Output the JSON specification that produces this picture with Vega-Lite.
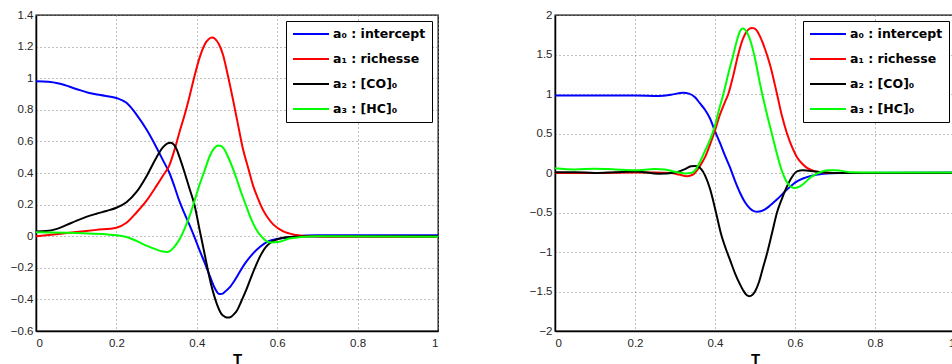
{
  "$schema": "https://vega.github.io/schema/vega-lite/v6.json",
  "background": "white",
  "padding": {"left": 9, "top": 8, "right": 0, "bottom": 0},
  "spacing": 85,
  "datasets": {
    "left": [
      {"s":"a₀ : intercept","T":0,"v":0.98},{"s":"a₀ : intercept","T":0.03,"v":0.978},{"s":"a₀ : intercept","T":0.06,"v":0.965},{"s":"a₀ : intercept","T":0.1,"v":0.932},{"s":"a₀ : intercept","T":0.13,"v":0.908},{"s":"a₀ : intercept","T":0.16,"v":0.893},{"s":"a₀ : intercept","T":0.2,"v":0.875},{"s":"a₀ : intercept","T":0.225,"v":0.844},{"s":"a₀ : intercept","T":0.25,"v":0.77},{"s":"a₀ : intercept","T":0.275,"v":0.675},{"s":"a₀ : intercept","T":0.3,"v":0.56},{"s":"a₀ : intercept","T":0.316,"v":0.48},{"s":"a₀ : intercept","T":0.332,"v":0.4},{"s":"a₀ : intercept","T":0.345,"v":0.31},{"s":"a₀ : intercept","T":0.357,"v":0.22},{"s":"a₀ : intercept","T":0.37,"v":0.14},{"s":"a₀ : intercept","T":0.382,"v":0.07},{"s":"a₀ : intercept","T":0.395,"v":-0.01},{"s":"a₀ : intercept","T":0.407,"v":-0.09},{"s":"a₀ : intercept","T":0.42,"v":-0.17},{"s":"a₀ : intercept","T":0.432,"v":-0.25},{"s":"a₀ : intercept","T":0.443,"v":-0.32},{"s":"a₀ : intercept","T":0.45,"v":-0.352},{"s":"a₀ : intercept","T":0.456,"v":-0.366},{"s":"a₀ : intercept","T":0.462,"v":-0.365},{"s":"a₀ : intercept","T":0.47,"v":-0.352},{"s":"a₀ : intercept","T":0.481,"v":-0.326},{"s":"a₀ : intercept","T":0.494,"v":-0.28},{"s":"a₀ : intercept","T":0.506,"v":-0.23},{"s":"a₀ : intercept","T":0.518,"v":-0.18},{"s":"a₀ : intercept","T":0.531,"v":-0.136},{"s":"a₀ : intercept","T":0.556,"v":-0.07},{"s":"a₀ : intercept","T":0.58,"v":-0.03},{"s":"a₀ : intercept","T":0.606,"v":-0.015},{"s":"a₀ : intercept","T":0.64,"v":-0.003},{"s":"a₀ : intercept","T":0.7,"v":0.006},{"s":"a₀ : intercept","T":1,"v":0.006},

      {"s":"a₁ : richesse","T":0,"v":0.0},{"s":"a₁ : richesse","T":0.05,"v":0.012},{"s":"a₁ : richesse","T":0.1,"v":0.026},{"s":"a₁ : richesse","T":0.15,"v":0.04},{"s":"a₁ : richesse","T":0.2,"v":0.054},{"s":"a₁ : richesse","T":0.225,"v":0.085},{"s":"a₁ : richesse","T":0.25,"v":0.15},{"s":"a₁ : richesse","T":0.275,"v":0.225},{"s":"a₁ : richesse","T":0.3,"v":0.32},{"s":"a₁ : richesse","T":0.315,"v":0.38},{"s":"a₁ : richesse","T":0.332,"v":0.45},{"s":"a₁ : richesse","T":0.345,"v":0.55},{"s":"a₁ : richesse","T":0.357,"v":0.66},{"s":"a₁ : richesse","T":0.37,"v":0.77},{"s":"a₁ : richesse","T":0.382,"v":0.886},{"s":"a₁ : richesse","T":0.395,"v":1.02},{"s":"a₁ : richesse","T":0.407,"v":1.13},{"s":"a₁ : richesse","T":0.42,"v":1.215},{"s":"a₁ : richesse","T":0.43,"v":1.248},{"s":"a₁ : richesse","T":0.438,"v":1.257},{"s":"a₁ : richesse","T":0.445,"v":1.25},{"s":"a₁ : richesse","T":0.455,"v":1.215},{"s":"a₁ : richesse","T":0.465,"v":1.15},{"s":"a₁ : richesse","T":0.477,"v":1.02},{"s":"a₁ : richesse","T":0.49,"v":0.865},{"s":"a₁ : richesse","T":0.503,"v":0.7},{"s":"a₁ : richesse","T":0.515,"v":0.55},{"s":"a₁ : richesse","T":0.528,"v":0.43},{"s":"a₁ : richesse","T":0.54,"v":0.32},{"s":"a₁ : richesse","T":0.552,"v":0.24},{"s":"a₁ : richesse","T":0.564,"v":0.17},{"s":"a₁ : richesse","T":0.577,"v":0.115},{"s":"a₁ : richesse","T":0.59,"v":0.075},{"s":"a₁ : richesse","T":0.614,"v":0.032},{"s":"a₁ : richesse","T":0.647,"v":0.008},{"s":"a₁ : richesse","T":0.68,"v":0.0},{"s":"a₁ : richesse","T":0.75,"v":-0.003},{"s":"a₁ : richesse","T":1,"v":-0.005},

      {"s":"a₂ : [CO]₀","T":0,"v":0.03},{"s":"a₂ : [CO]₀","T":0.025,"v":0.033},{"s":"a₂ : [CO]₀","T":0.05,"v":0.045},{"s":"a₂ : [CO]₀","T":0.075,"v":0.07},{"s":"a₂ : [CO]₀","T":0.1,"v":0.097},{"s":"a₂ : [CO]₀","T":0.125,"v":0.122},{"s":"a₂ : [CO]₀","T":0.15,"v":0.142},{"s":"a₂ : [CO]₀","T":0.175,"v":0.16},{"s":"a₂ : [CO]₀","T":0.2,"v":0.18},{"s":"a₂ : [CO]₀","T":0.225,"v":0.215},{"s":"a₂ : [CO]₀","T":0.25,"v":0.28},{"s":"a₂ : [CO]₀","T":0.275,"v":0.38},{"s":"a₂ : [CO]₀","T":0.3,"v":0.5},{"s":"a₂ : [CO]₀","T":0.315,"v":0.56},{"s":"a₂ : [CO]₀","T":0.327,"v":0.587},{"s":"a₂ : [CO]₀","T":0.335,"v":0.592},{"s":"a₂ : [CO]₀","T":0.343,"v":0.58},{"s":"a₂ : [CO]₀","T":0.35,"v":0.55},{"s":"a₂ : [CO]₀","T":0.357,"v":0.5},{"s":"a₂ : [CO]₀","T":0.37,"v":0.4},{"s":"a₂ : [CO]₀","T":0.382,"v":0.3},{"s":"a₂ : [CO]₀","T":0.394,"v":0.2},{"s":"a₂ : [CO]₀","T":0.407,"v":0.04},{"s":"a₂ : [CO]₀","T":0.42,"v":-0.12},{"s":"a₂ : [CO]₀","T":0.435,"v":-0.3},{"s":"a₂ : [CO]₀","T":0.45,"v":-0.43},{"s":"a₂ : [CO]₀","T":0.462,"v":-0.495},{"s":"a₂ : [CO]₀","T":0.47,"v":-0.51},{"s":"a₂ : [CO]₀","T":0.477,"v":-0.515},{"s":"a₂ : [CO]₀","T":0.485,"v":-0.51},{"s":"a₂ : [CO]₀","T":0.492,"v":-0.495},{"s":"a₂ : [CO]₀","T":0.5,"v":-0.47},{"s":"a₂ : [CO]₀","T":0.511,"v":-0.41},{"s":"a₂ : [CO]₀","T":0.523,"v":-0.34},{"s":"a₂ : [CO]₀","T":0.535,"v":-0.26},{"s":"a₂ : [CO]₀","T":0.548,"v":-0.18},{"s":"a₂ : [CO]₀","T":0.56,"v":-0.115},{"s":"a₂ : [CO]₀","T":0.573,"v":-0.065},{"s":"a₂ : [CO]₀","T":0.585,"v":-0.038},{"s":"a₂ : [CO]₀","T":0.6,"v":-0.02},{"s":"a₂ : [CO]₀","T":0.63,"v":-0.005},{"s":"a₂ : [CO]₀","T":0.7,"v":0.0},{"s":"a₂ : [CO]₀","T":1,"v":0.0},

      {"s":"a₃ : [HC]₀","T":0,"v":0.025},{"s":"a₃ : [HC]₀","T":0.1,"v":0.02},{"s":"a₃ : [HC]₀","T":0.2,"v":0.006},{"s":"a₃ : [HC]₀","T":0.225,"v":-0.005},{"s":"a₃ : [HC]₀","T":0.25,"v":-0.03},{"s":"a₃ : [HC]₀","T":0.275,"v":-0.06},{"s":"a₃ : [HC]₀","T":0.3,"v":-0.085},{"s":"a₃ : [HC]₀","T":0.315,"v":-0.097},{"s":"a₃ : [HC]₀","T":0.325,"v":-0.1},{"s":"a₃ : [HC]₀","T":0.333,"v":-0.095},{"s":"a₃ : [HC]₀","T":0.345,"v":-0.065},{"s":"a₃ : [HC]₀","T":0.357,"v":-0.02},{"s":"a₃ : [HC]₀","T":0.37,"v":0.05},{"s":"a₃ : [HC]₀","T":0.382,"v":0.127},{"s":"a₃ : [HC]₀","T":0.395,"v":0.23},{"s":"a₃ : [HC]₀","T":0.407,"v":0.327},{"s":"a₃ : [HC]₀","T":0.42,"v":0.42},{"s":"a₃ : [HC]₀","T":0.432,"v":0.506},{"s":"a₃ : [HC]₀","T":0.442,"v":0.553},{"s":"a₃ : [HC]₀","T":0.449,"v":0.57},{"s":"a₃ : [HC]₀","T":0.455,"v":0.574},{"s":"a₃ : [HC]₀","T":0.461,"v":0.57},{"s":"a₃ : [HC]₀","T":0.468,"v":0.552},{"s":"a₃ : [HC]₀","T":0.477,"v":0.506},{"s":"a₃ : [HC]₀","T":0.488,"v":0.44},{"s":"a₃ : [HC]₀","T":0.498,"v":0.37},{"s":"a₃ : [HC]₀","T":0.51,"v":0.28},{"s":"a₃ : [HC]₀","T":0.523,"v":0.19},{"s":"a₃ : [HC]₀","T":0.535,"v":0.11},{"s":"a₃ : [HC]₀","T":0.548,"v":0.043},{"s":"a₃ : [HC]₀","T":0.56,"v":0.0},{"s":"a₃ : [HC]₀","T":0.573,"v":-0.031},{"s":"a₃ : [HC]₀","T":0.585,"v":-0.04},{"s":"a₃ : [HC]₀","T":0.606,"v":-0.035},{"s":"a₃ : [HC]₀","T":0.63,"v":-0.015},{"s":"a₃ : [HC]₀","T":0.66,"v":-0.005},{"s":"a₃ : [HC]₀","T":0.7,"v":0.0},{"s":"a₃ : [HC]₀","T":1,"v":-0.003}
    ],
    "right": [
      {"s":"a₀ : intercept","T":0,"v":0.98},{"s":"a₀ : intercept","T":0.1,"v":0.98},{"s":"a₀ : intercept","T":0.2,"v":0.98},{"s":"a₀ : intercept","T":0.26,"v":0.975},{"s":"a₀ : intercept","T":0.29,"v":0.99},{"s":"a₀ : intercept","T":0.32,"v":1.015},{"s":"a₀ : intercept","T":0.335,"v":1.005},{"s":"a₀ : intercept","T":0.35,"v":0.96},{"s":"a₀ : intercept","T":0.3625,"v":0.88},{"s":"a₀ : intercept","T":0.375,"v":0.8},{"s":"a₀ : intercept","T":0.3875,"v":0.69},{"s":"a₀ : intercept","T":0.4,"v":0.53},{"s":"a₀ : intercept","T":0.4125,"v":0.38},{"s":"a₀ : intercept","T":0.425,"v":0.22},{"s":"a₀ : intercept","T":0.4375,"v":0.07},{"s":"a₀ : intercept","T":0.45,"v":-0.1},{"s":"a₀ : intercept","T":0.4625,"v":-0.25},{"s":"a₀ : intercept","T":0.475,"v":-0.37},{"s":"a₀ : intercept","T":0.4875,"v":-0.45},{"s":"a₀ : intercept","T":0.497,"v":-0.482},{"s":"a₀ : intercept","T":0.506,"v":-0.49},{"s":"a₀ : intercept","T":0.514,"v":-0.485},{"s":"a₀ : intercept","T":0.524,"v":-0.463},{"s":"a₀ : intercept","T":0.537,"v":-0.415},{"s":"a₀ : intercept","T":0.554,"v":-0.34},{"s":"a₀ : intercept","T":0.58,"v":-0.21},{"s":"a₀ : intercept","T":0.604,"v":-0.11},{"s":"a₀ : intercept","T":0.62,"v":-0.07},{"s":"a₀ : intercept","T":0.6375,"v":-0.04},{"s":"a₀ : intercept","T":0.671,"v":-0.01},{"s":"a₀ : intercept","T":0.7125,"v":0.0},{"s":"a₀ : intercept","T":1,"v":0.005},

      {"s":"a₁ : richesse","T":0,"v":0.0},{"s":"a₁ : richesse","T":0.1,"v":0.0},{"s":"a₁ : richesse","T":0.2,"v":0.005},{"s":"a₁ : richesse","T":0.25,"v":0.005},{"s":"a₁ : richesse","T":0.29,"v":0.0},{"s":"a₁ : richesse","T":0.31,"v":-0.02},{"s":"a₁ : richesse","T":0.33,"v":-0.04},{"s":"a₁ : richesse","T":0.345,"v":-0.02},{"s":"a₁ : richesse","T":0.3625,"v":0.09},{"s":"a₁ : richesse","T":0.375,"v":0.2},{"s":"a₁ : richesse","T":0.3875,"v":0.36},{"s":"a₁ : richesse","T":0.4,"v":0.54},{"s":"a₁ : richesse","T":0.4125,"v":0.74},{"s":"a₁ : richesse","T":0.425,"v":0.9},{"s":"a₁ : richesse","T":0.4333,"v":1.0},{"s":"a₁ : richesse","T":0.445,"v":1.22},{"s":"a₁ : richesse","T":0.458,"v":1.5},{"s":"a₁ : richesse","T":0.47,"v":1.7},{"s":"a₁ : richesse","T":0.479,"v":1.79},{"s":"a₁ : richesse","T":0.486,"v":1.826},{"s":"a₁ : richesse","T":0.492,"v":1.836},{"s":"a₁ : richesse","T":0.498,"v":1.83},{"s":"a₁ : richesse","T":0.505,"v":1.8},{"s":"a₁ : richesse","T":0.5125,"v":1.73},{"s":"a₁ : richesse","T":0.525,"v":1.57},{"s":"a₁ : richesse","T":0.5375,"v":1.37},{"s":"a₁ : richesse","T":0.555,"v":1.0},{"s":"a₁ : richesse","T":0.5675,"v":0.72},{"s":"a₁ : richesse","T":0.58,"v":0.5},{"s":"a₁ : richesse","T":0.5925,"v":0.33},{"s":"a₁ : richesse","T":0.605,"v":0.2},{"s":"a₁ : richesse","T":0.6175,"v":0.12},{"s":"a₁ : richesse","T":0.63,"v":0.065},{"s":"a₁ : richesse","T":0.645,"v":0.03},{"s":"a₁ : richesse","T":0.66,"v":0.012},{"s":"a₁ : richesse","T":0.68,"v":0.003},{"s":"a₁ : richesse","T":0.7,"v":0.0},{"s":"a₁ : richesse","T":1,"v":0.0},

      {"s":"a₂ : [CO]₀","T":0,"v":0.01},{"s":"a₂ : [CO]₀","T":0.05,"v":0.01},{"s":"a₂ : [CO]₀","T":0.1,"v":0.0},{"s":"a₂ : [CO]₀","T":0.15,"v":0.01},{"s":"a₂ : [CO]₀","T":0.2,"v":0.02},{"s":"a₂ : [CO]₀","T":0.26,"v":-0.01},{"s":"a₂ : [CO]₀","T":0.3,"v":0.005},{"s":"a₂ : [CO]₀","T":0.325,"v":0.05},{"s":"a₂ : [CO]₀","T":0.34,"v":0.085},{"s":"a₂ : [CO]₀","T":0.35,"v":0.09},{"s":"a₂ : [CO]₀","T":0.358,"v":0.08},{"s":"a₂ : [CO]₀","T":0.366,"v":0.045},{"s":"a₂ : [CO]₀","T":0.375,"v":-0.03},{"s":"a₂ : [CO]₀","T":0.3875,"v":-0.2},{"s":"a₂ : [CO]₀","T":0.4025,"v":-0.5},{"s":"a₂ : [CO]₀","T":0.415,"v":-0.77},{"s":"a₂ : [CO]₀","T":0.43,"v":-1.0},{"s":"a₂ : [CO]₀","T":0.4375,"v":-1.1},{"s":"a₂ : [CO]₀","T":0.45,"v":-1.27},{"s":"a₂ : [CO]₀","T":0.4625,"v":-1.41},{"s":"a₂ : [CO]₀","T":0.471,"v":-1.49},{"s":"a₂ : [CO]₀","T":0.479,"v":-1.545},{"s":"a₂ : [CO]₀","T":0.486,"v":-1.56},{"s":"a₂ : [CO]₀","T":0.493,"v":-1.545},{"s":"a₂ : [CO]₀","T":0.5,"v":-1.5},{"s":"a₂ : [CO]₀","T":0.51,"v":-1.38},{"s":"a₂ : [CO]₀","T":0.52,"v":-1.2},{"s":"a₂ : [CO]₀","T":0.531,"v":-1.0},{"s":"a₂ : [CO]₀","T":0.543,"v":-0.75},{"s":"a₂ : [CO]₀","T":0.555,"v":-0.5},{"s":"a₂ : [CO]₀","T":0.567,"v":-0.33},{"s":"a₂ : [CO]₀","T":0.58,"v":-0.17},{"s":"a₂ : [CO]₀","T":0.5925,"v":-0.05},{"s":"a₂ : [CO]₀","T":0.605,"v":0.02},{"s":"a₂ : [CO]₀","T":0.62,"v":0.035},{"s":"a₂ : [CO]₀","T":0.65,"v":0.02},{"s":"a₂ : [CO]₀","T":0.7,"v":0.0},{"s":"a₂ : [CO]₀","T":1,"v":0.0},

      {"s":"a₃ : [HC]₀","T":0,"v":0.06},{"s":"a₃ : [HC]₀","T":0.05,"v":0.045},{"s":"a₃ : [HC]₀","T":0.1,"v":0.055},{"s":"a₃ : [HC]₀","T":0.15,"v":0.045},{"s":"a₃ : [HC]₀","T":0.2,"v":0.035},{"s":"a₃ : [HC]₀","T":0.25,"v":0.05},{"s":"a₃ : [HC]₀","T":0.275,"v":0.045},{"s":"a₃ : [HC]₀","T":0.3,"v":0.015},{"s":"a₃ : [HC]₀","T":0.325,"v":-0.005},{"s":"a₃ : [HC]₀","T":0.34,"v":0.0},{"s":"a₃ : [HC]₀","T":0.3525,"v":0.05},{"s":"a₃ : [HC]₀","T":0.3625,"v":0.14},{"s":"a₃ : [HC]₀","T":0.375,"v":0.28},{"s":"a₃ : [HC]₀","T":0.3875,"v":0.42},{"s":"a₃ : [HC]₀","T":0.4,"v":0.6},{"s":"a₃ : [HC]₀","T":0.41,"v":0.8},{"s":"a₃ : [HC]₀","T":0.421,"v":1.0},{"s":"a₃ : [HC]₀","T":0.433,"v":1.25},{"s":"a₃ : [HC]₀","T":0.446,"v":1.5},{"s":"a₃ : [HC]₀","T":0.456,"v":1.7},{"s":"a₃ : [HC]₀","T":0.463,"v":1.8},{"s":"a₃ : [HC]₀","T":0.469,"v":1.83},{"s":"a₃ : [HC]₀","T":0.475,"v":1.815},{"s":"a₃ : [HC]₀","T":0.481,"v":1.77},{"s":"a₃ : [HC]₀","T":0.4875,"v":1.69},{"s":"a₃ : [HC]₀","T":0.5,"v":1.45},{"s":"a₃ : [HC]₀","T":0.5125,"v":1.13},{"s":"a₃ : [HC]₀","T":0.53,"v":0.74},{"s":"a₃ : [HC]₀","T":0.542,"v":0.5},{"s":"a₃ : [HC]₀","T":0.555,"v":0.24},{"s":"a₃ : [HC]₀","T":0.567,"v":0.03},{"s":"a₃ : [HC]₀","T":0.578,"v":-0.1},{"s":"a₃ : [HC]₀","T":0.59,"v":-0.175},{"s":"a₃ : [HC]₀","T":0.6,"v":-0.19},{"s":"a₃ : [HC]₀","T":0.6125,"v":-0.17},{"s":"a₃ : [HC]₀","T":0.625,"v":-0.12},{"s":"a₃ : [HC]₀","T":0.6375,"v":-0.06},{"s":"a₃ : [HC]₀","T":0.65,"v":-0.02},{"s":"a₃ : [HC]₀","T":0.6625,"v":0.01},{"s":"a₃ : [HC]₀","T":0.683,"v":0.035},{"s":"a₃ : [HC]₀","T":0.7,"v":0.035},{"s":"a₃ : [HC]₀","T":0.7125,"v":0.03},{"s":"a₃ : [HC]₀","T":0.7375,"v":0.01},{"s":"a₃ : [HC]₀","T":0.8,"v":0.005},{"s":"a₃ : [HC]₀","T":1,"v":0.005}
    ]
  },
  "hconcat": [
    {
      "width": 402,
      "height": 316,
      "data": {"name": "left"},
      "mark": {"type": "line", "interpolate": "monotone", "strokeWidth": 2},
      "encoding": {
        "x": {"field": "T", "type": "quantitative", "scale": {"domain": [0, 1], "nice": false}, "axis": {"values": [0, 0.2, 0.4, 0.6, 0.8, 1], "format": "~g", "title": "T"}},
        "y": {"field": "v", "type": "quantitative", "scale": {"domain": [-0.6, 1.4], "nice": false, "zero": false}, "axis": {"values": [-0.6, -0.4, -0.2, 0, 0.2, 0.4, 0.6, 0.8, 1, 1.2, 1.4], "format": "~g", "title": null}},
        "color": {"field": "s", "type": "nominal", "sort": null, "scale": {"domain": ["a₀ : intercept", "a₁ : richesse", "a₂ : [CO]₀", "a₃ : [HC]₀"], "range": ["#0000ff", "#ff0000", "#000000", "#00ff00"]}, "legend": {"orient": "top-right"}}
      }
    },
    {
      "width": 400,
      "height": 316,
      "data": {"name": "right"},
      "mark": {"type": "line", "interpolate": "monotone", "strokeWidth": 2},
      "encoding": {
        "x": {"field": "T", "type": "quantitative", "scale": {"domain": [0, 1], "nice": false}, "axis": {"values": [0, 0.2, 0.4, 0.6, 0.8, 1], "format": "~g", "title": "T"}},
        "y": {"field": "v", "type": "quantitative", "scale": {"domain": [-2, 2], "nice": false, "zero": false}, "axis": {"values": [-2, -1.5, -1, -0.5, 0, 0.5, 1, 1.5, 2], "format": "~g", "title": null}},
        "color": {"field": "s", "type": "nominal", "sort": null, "scale": {"domain": ["a₀ : intercept", "a₁ : richesse", "a₂ : [CO]₀", "a₃ : [HC]₀"], "range": ["#0000ff", "#ff0000", "#000000", "#00ff00"]}, "legend": {"orient": "top-right"}}
      }
    }
  ],
  "resolve": {"legend": {"color": "independent"}, "scale": {"y": "independent", "x": "independent"}},
  "config": {
    "view": {"stroke": "black", "strokeWidth": 1.3},
    "axis": {
      "domainColor": "black", "domainWidth": 1.5, "ticks": false,
      "grid": true, "gridColor": "#808080", "gridDash": [1, 3], "gridWidth": 1, "gridOpacity": 1,
      "labelFont": "Liberation Sans", "labelFontSize": 11.5, "labelColor": "#262626",
      "titleFont": "Liberation Sans", "titleFontWeight": "bold", "titleFontSize": 15, "titleColor": "black"
    },
    "axisX": {"labelPadding": 6, "titlePadding": 3},
    "axisY": {"labelPadding": 3},
    "legend": {
      "offset": 6, "title": null, "strokeColor": "black", "fillColor": "white", "padding": 6,
      "symbolType": "stroke", "symbolSize": 1296, "symbolStrokeWidth": 2,
      "clipHeight": 14, "rowPadding": 11,
      "labelFont": "DejaVu Sans", "labelFontWeight": "bold", "labelFontSize": 12.5, "labelColor": "black",
      "labelOffset": 3, "labelLimit": 200
    }
  }
}
